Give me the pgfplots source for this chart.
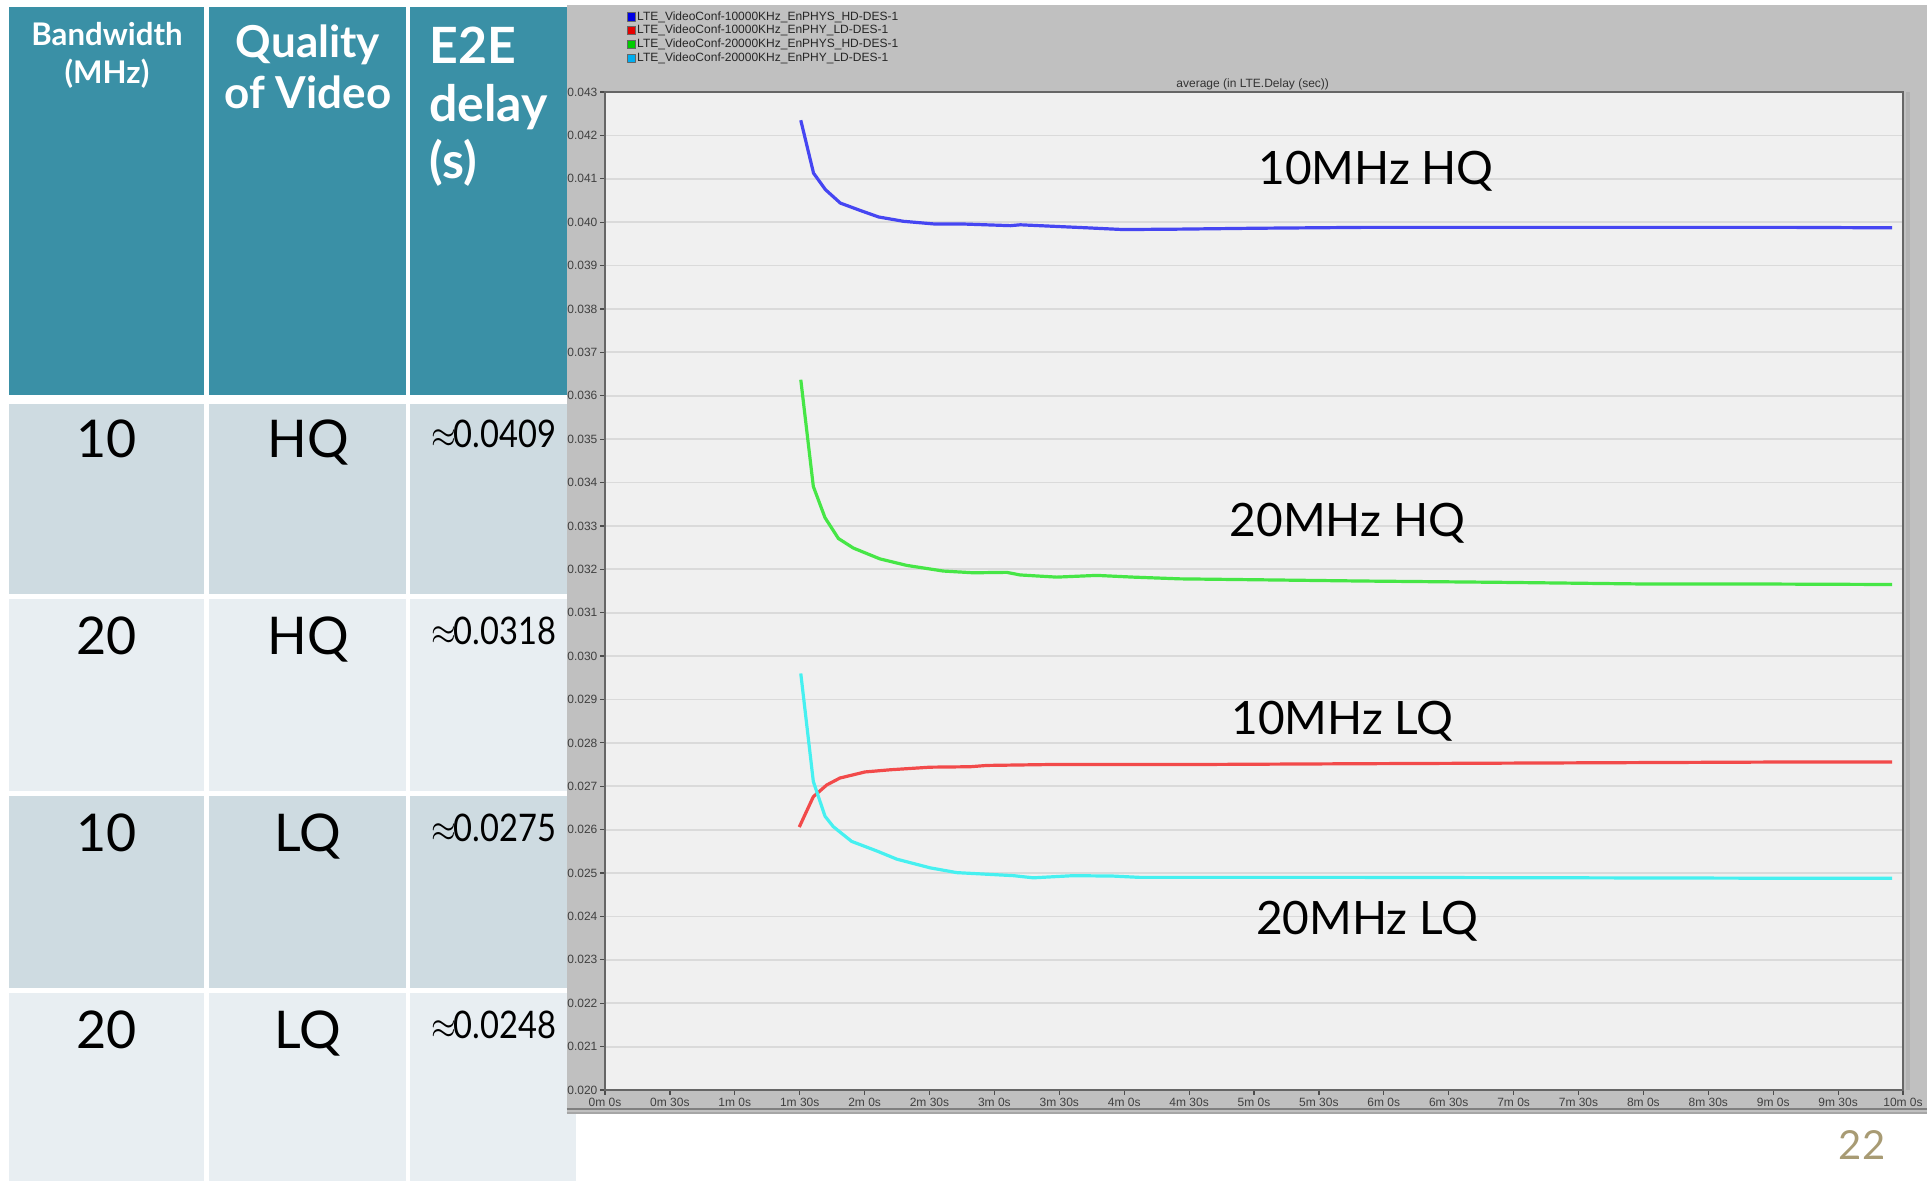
\documentclass[border=0pt]{standalone}
\usepackage{fontspec}
\setmainfont{Lato}
\newfontfamily\chartfont{Liberation Sans}
\usepackage{pgfplots}
\pgfplotsset{compat=1.18}
\definecolor{hdr}{HTML}{3A90A6}
\definecolor{rowA}{HTML}{CEDBE1}
\definecolor{rowB}{HTML}{E8EEF2}
\definecolor{wingray}{HTML}{C0C0C0}
\definecolor{plotbg}{HTML}{F0F0F0}
\definecolor{gridc}{HTML}{DADADA}
\definecolor{cblue}{HTML}{4646F2}
\definecolor{cred}{HTML}{F24A4A}
\definecolor{cgreen}{HTML}{46E646}
\definecolor{ccyan}{HTML}{46F0F0}
\definecolor{pagenum}{HTML}{A89B74}
\begin{document}
\begin{tikzpicture}
\path[use as bounding box] (0,0) rectangle (482.75pt,-295.25pt);
\begin{scope}[x=0.25pt,y=-0.25pt]
% table cells
\fill[hdr] (8.6,7.4) rectangle (204.4,395.3);
\fill[hdr] (209.4,7.4) rectangle (406.4,395.3);
\fill[hdr] (410,7.4) rectangle (576,395.3);
\foreach \ya/\yb/\c in {404/593.6/rowA, 598.5/790.6/rowB, 795.5/987.7/rowA, 992.6/1181/rowB}{
  \fill[\c] (8.6,\ya) rectangle (204.4,\yb);
  \fill[\c] (209.4,\ya) rectangle (406.4,\yb);
  \fill[\c] (410,\ya) rectangle (576,\yb);
}
% header text
\begin{scope}[every node/.style={text=white,font=\bfseries}]
\node[font=\bfseries\fontsize{7.8}{9}\selectfont] at (107,34.5) {Bandwidth};
\node[font=\bfseries\fontsize{7.8}{9}\selectfont] at (107,74) {(MHz)};
\node[font=\bfseries\fontsize{11}{13}\selectfont] at (308,45) {Quality};
\node[font=\bfseries\fontsize{11}{13}\selectfont] at (308,92) {of Video};
\node[font=\bfseries\fontsize{12.5}{14}\selectfont,anchor=west,inner sep=0pt] at (428.6,45.6) {E2E};
\node[font=\bfseries\fontsize{12.5}{14}\selectfont,anchor=west,inner sep=0pt] at (428.6,107) {delay};
\node[font=\bfseries\fontsize{12.5}{14}\selectfont,anchor=west,inner sep=0pt] at (428.6,162.6) {(s)};
\end{scope}
% body text
\begin{scope}[every node/.style={text=black,font=\fontsize{13}{15}\selectfont,anchor=base,inner sep=0pt}]
\node at (107,457) {10};    \node at (308,457) {HQ};
\node at (107,654) {20};    \node at (308,654) {HQ};
\node at (107,851) {10};    \node at (308,851) {LQ};
\node at (107,1048.5) {20}; \node at (308,1048.5) {LQ};
\end{scope}
\begin{scope}[every node/.style={text=black,font=\fontsize{9.5}{11}\selectfont,anchor=base east,inner sep=0pt}]
\node at (557,447) {\scalebox{0.86}[1]{$\approx$\kern-0.6pt0.0409}};
\node at (557,644) {\scalebox{0.86}[1]{$\approx$\kern-0.6pt0.0318}};
\node at (557,841) {\scalebox{0.86}[1]{$\approx$\kern-0.6pt0.0275}};
\node at (557,1038) {\scalebox{0.86}[1]{$\approx$\kern-0.6pt0.0248}};
\end{scope}
% chart window
\fill[wingray] (566.5,5) rectangle (1927,1114);
\draw[black!50,line width=0.5pt] (566.5,1109) -- (1927,1109);
\draw[black!35,line width=0.4pt] (566.5,1113) -- (1927,1113);
\draw[black!30,line width=0.8pt] (1908,92) -- (1908,1090);
% page number
\node[text=pagenum,font=\fontsize{10}{12}\selectfont] at (1862,1145) {22};
\end{scope}
\begin{axis}[
  at={(151.25pt,-23pt)}, anchor=north west,
  scale only axis, width=324.5pt, height=249.5pt,
  xmin=0, xmax=600, ymin=0.020, ymax=0.043,
  xtick={0,30,...,600},
  xticklabels={0m 0s,0m 30s,1m 0s,1m 30s,2m 0s,2m 30s,3m 0s,3m 30s,4m 0s,4m 30s,5m 0s,5m 30s,6m 0s,6m 30s,7m 0s,7m 30s,8m 0s,8m 30s,9m 0s,9m 30s,10m 0s},
  ytick={0.020,0.021,0.022,0.023,0.024,0.025,0.026,0.027,0.028,0.029,0.030,0.031,0.032,0.033,0.034,0.035,0.036,0.037,0.038,0.039,0.040,0.041,0.042,0.043},
  scaled y ticks=false,
  /pgf/number format/assume math mode=true,
  yticklabel style={/pgf/number format/fixed,/pgf/number format/fixed zerofill,/pgf/number format/precision=3,inner sep=0.5pt},
  xticklabel style={inner sep=0.6pt},
  ticklabel style={font=\chartfont\fontsize{3}{3.6}\selectfont, text=black!75},
  tick pos=left, tick align=outside, major tick length=1.2pt,
  tick style={black!70, line width=0.3pt},
  ymajorgrids, grid style={gridc, line width=0.45pt},
  axis background/.style={fill=plotbg},
  axis line style={black!60, line width=0.6pt},
  title={average (in LTE.Delay (sec))},
  every axis title shift=0pt,
  title style={at={(0.499,1.008)}, anchor=center, yshift=0pt, font=\chartfont\fontsize{3}{3.6}\selectfont, text=black!80, inner sep=0pt},
  legend style={at={(0.0162,1.083)}, anchor=north west, draw=none, fill=none,
    font=\chartfont\fontsize{3}{3.6}\selectfont, text=black!85, inner sep=0pt, row sep=0pt,
    nodes={inner sep=0.3pt, text height=2.25pt, text depth=0.6pt}},
  legend cell align=left,
  legend image code/.code={\draw[#1,draw=black!60,line width=0.2pt] (0pt,-1.05pt) rectangle (2.1pt,1.05pt);},
  every axis plot/.append style={line width=0.8pt, line join=round, no markers, forget plot},
]
\addlegendimage{fill=blue!90!black}
\addlegendentry{LTE\_VideoConf-10000KHz\_EnPHYS\_HD-DES-1}
\addlegendimage{fill=red!90!black}
\addlegendentry{LTE\_VideoConf-10000KHz\_EnPHY\_LD-DES-1}
\addlegendimage{fill=green!80!black}
\addlegendentry{LTE\_VideoConf-20000KHz\_EnPHYS\_HD-DES-1}
\addlegendimage{fill=cyan}
\addlegendentry{LTE\_VideoConf-20000KHz\_EnPHY\_LD-DES-1}

% 10 MHz HQ
\addplot[cblue] coordinates {
(90.5,0.04235) (96.4,0.04113) (101.9,0.04075) (108.8,0.04044) (118.0,0.04027)
(126.5,0.04012) (138.0,0.04002) (151.9,0.03996) (164.3,0.03996) (187.4,0.03992)
(192.0,0.03994) (222.8,0.03987) (239.6,0.03983) (265.8,0.03984) (300,0.03986)
(350,0.03988) (400,0.03988) (450,0.03988) (500,0.03988) (550,0.03988) (595,0.03987)};
% 20 MHz HQ
\addplot[cgreen] coordinates {
(90.5,0.03637) (96.3,0.03391) (101.7,0.03319) (107.9,0.03271) (114.8,0.03249)
(127.1,0.03224) (139.5,0.03209) (156.4,0.03196) (170.3,0.03192) (185.7,0.03193)
(191.9,0.03187) (208.8,0.03182) (227.3,0.03186) (244.2,0.03182) (265.8,0.03178)
(300,0.03176) (350,0.03173) (414,0.03170) (483,0.03166) (540,0.03166) (595,0.03165)};
% 10 MHz LQ
\addplot[cred] coordinates {
(89.8,0.02606) (96.3,0.02676) (102.5,0.02703) (108.6,0.02719) (120.2,0.02733)
(131.8,0.02738) (150.3,0.02744) (168.7,0.02745) (176.5,0.02748) (204.2,0.02750)
(235,0.02750) (265.8,0.02750) (350,0.02752) (450,0.02754) (550,0.02756) (595,0.02756)};
% 20 MHz LQ
\addplot[ccyan] coordinates {
(90.5,0.02960) (96.3,0.02711) (101.7,0.02631) (105.5,0.02607) (114,0.02573)
(125.6,0.02551) (134.9,0.02532) (150.3,0.02512) (162.6,0.02501) (188.8,0.02494)
(198,0.02489) (216.5,0.02494) (235,0.02493) (247.3,0.02490) (265.8,0.02490)
(350,0.02490) (450,0.02489) (550,0.02488) (595,0.02488)};

\node[font=\fontsize{11.5}{13}\selectfont] at (axis cs:356.4,0.04118) {10MHz HQ};
\node[font=\fontsize{11.5}{13}\selectfont] at (axis cs:343.2,0.03306) {20MHz HQ};
\node[font=\fontsize{11.5}{13}\selectfont] at (axis cs:340.9,0.02849) {10MHz LQ};
\node[font=\fontsize{11.5}{13}\selectfont] at (axis cs:352.3,0.02389) {20MHz LQ};
\end{axis}
\end{tikzpicture}
\end{document}
